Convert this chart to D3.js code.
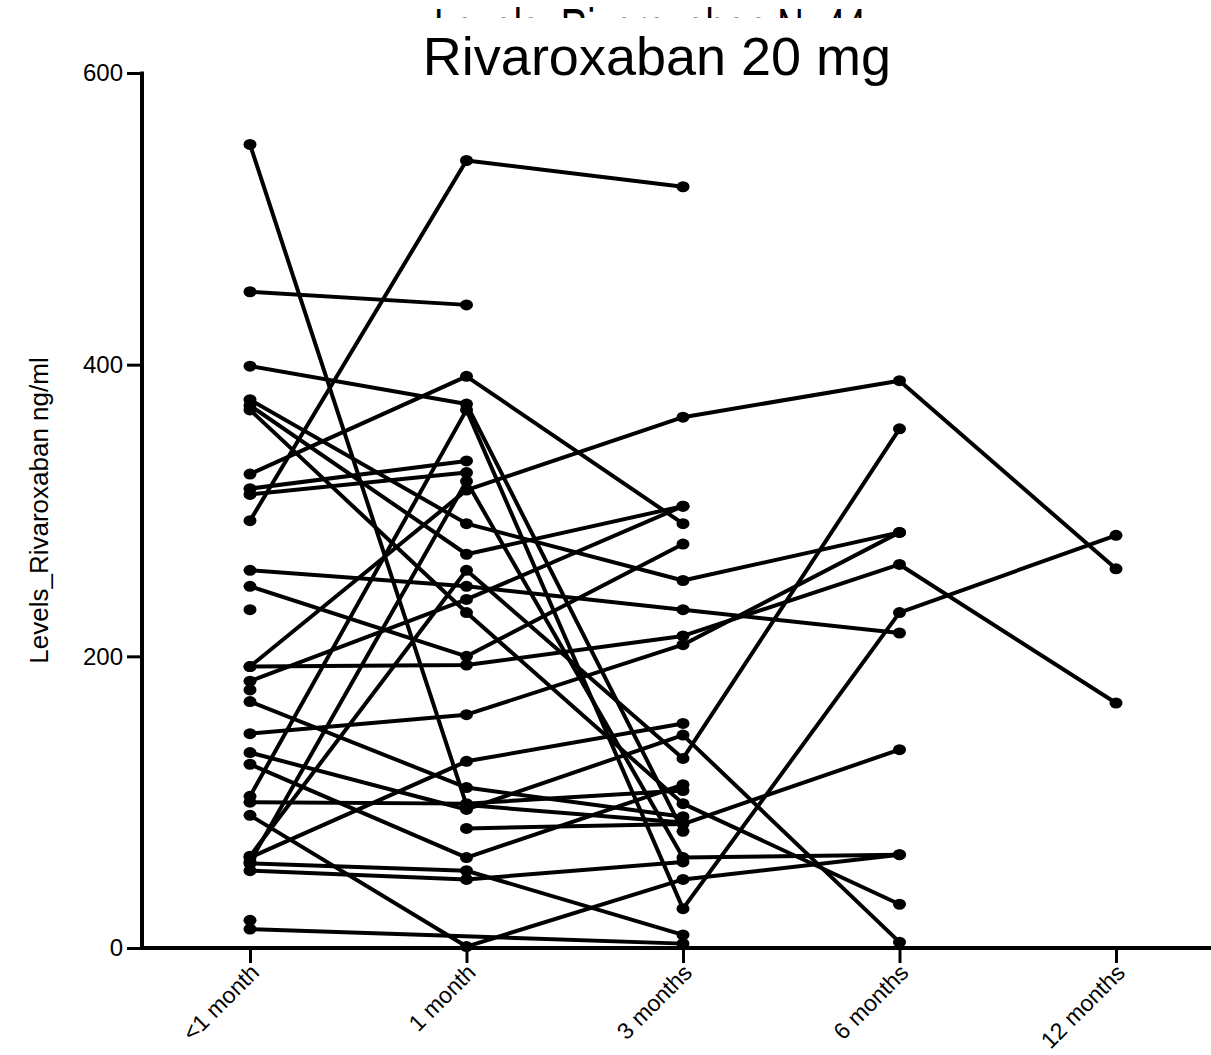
<!DOCTYPE html>
<html><head><meta charset="utf-8">
<script src="https://cdnjs.cloudflare.com/ajax/libs/d3/7.8.5/d3.min.js"></script>
<style>
body{margin:0;background:#fff}
svg{display:block}
text{font-family:"Liberation Sans",Arial,sans-serif;fill:#000}
</style>
</head><body>
<svg id="chart" width="1211" height="1055"></svg>
<script>
// Visits along the x axis
const timepoints = ["<1 month", "1 month", "3 months", "6 months", "12 months"];
const yTicks = [0, 200, 400, 600];
const chartTitle = "Rivaroxaban 20 mg";
const hiddenTitle = "Levels_Rivaroxaban N=44";
const yLabel = "Levels_Rivaroxaban ng/ml";

// Rivaroxaban level (ng/ml) per patient at each visit; null = not measured
const subjects = [
  [551, 98, 86, null, null],
  [450, 441, null, null, null],
  [399, 373, 80, null, null],
  [376, 291, 252, 285, null],
  [372, 270, 303, null, null],
  [369, 230, 99, 30, null],
  [325, 392, 291, null, null],
  [315, 334, null, null, null],
  [311, 326, null, null, null],
  [293, 540, 522, null, null],
  [259, 248, 232, 216, null],
  [248, 200, 277, null, null],
  [232, null, null, null, null],
  [193, 194, 214, 263, 168],
  [193, 314, 364, 389, 260],
  [183, 239, 303, null, null],
  [177, null, null, null, null],
  [169, 110, 90, null, null],
  [147, 160, 208, 285, null],
  [134, 95, 146, 4, null],
  [126, 62, 112, null, null],
  [104, 369, 27, 230, 283],
  [100, 99, 108, null, null],
  [91, 1, 47, 64, null],
  [63, 259, 130, 356, null],
  [62, 128, 154, null, null],
  [59, 320, 62, 64, null],
  [58, 53, 9, null, null],
  [53, 47, 59, null, null],
  [19, null, null, null, null],
  [13, null, 3, null, null],
  [null, 82, 85, 136, null]
];

const svg = d3.select("#chart");
const x = d3.scalePoint().domain(timepoints).range([250, 1116]);
const y = d3.scaleLinear().domain([0, 600]).range([948, 73]);

// Title block: the upper caption is mostly covered by the main title,
// only the tops of its tall letters remain visible
const clip = svg.append("defs").append("clipPath").attr("id", "topclip");
clip.append("rect").attr("x", 0).attr("y", 0).attr("width", 1211).attr("height", 18);
svg.append("text").attr("x", 650).attr("y", 47).attr("text-anchor", "middle")
  .attr("font-size", 56).attr("textLength", 432).attr("lengthAdjust", "spacingAndGlyphs")
  .attr("clip-path", "url(#topclip)").text(hiddenTitle);
svg.append("text").attr("x", 657).attr("y", 75).attr("text-anchor", "middle")
  .attr("font-size", 54).text(chartTitle);

// Y axis
const yAxis = svg.append("g").attr("transform", "translate(142,0)")
  .call(d3.axisLeft(y).tickValues(yTicks).tickSize(15).tickPadding(4));
yAxis.select(".domain").remove();
yAxis.selectAll(".tick line").attr("stroke", "#000").attr("stroke-width", 3);
yAxis.selectAll(".tick text").attr("font-size", 24).attr("font-family", "Liberation Sans, Arial, sans-serif");
svg.append("line").attr("x1", 142).attr("x2", 142).attr("y1", y(600) - 1.5).attr("y2", y(0) + 2)
  .attr("stroke", "#000").attr("stroke-width", 4);

svg.append("text").attr("transform", `translate(48,${(y(0) + y(600)) / 2}) rotate(-90)`)
  .attr("text-anchor", "middle").attr("font-size", 26).text(yLabel);

// X axis
const xAxis = svg.append("g").attr("transform", `translate(0,${y(0)})`)
  .call(d3.axisBottom(x).tickSize(15).tickFormat(""));
xAxis.select(".domain").remove();
xAxis.selectAll(".tick line").attr("stroke", "#000").attr("stroke-width", 3);
svg.append("line").attr("x1", 140).attr("x2", 1211).attr("y1", y(0)).attr("y2", y(0))
  .attr("stroke", "#000").attr("stroke-width", 4);
xAxis.selectAll(".tick").append("text")
  .attr("transform", "translate(10,26) rotate(-45)")
  .attr("text-anchor", "end").attr("font-size", 23).text(d => d);

// Patient trajectories
const line = d3.line().x(d => x(d.t)).y(d => y(d.v));
const g = svg.append("g");
subjects.forEach(vals => {
  const pts = vals.map((v, i) => ({t: timepoints[i], v})).filter(d => d.v !== null);
  if (pts.length > 1) {
    g.append("path").attr("d", line(pts)).attr("fill", "none")
      .attr("stroke", "#000").attr("stroke-width", 4).attr("stroke-linejoin", "round");
  }
  g.selectAll(null).data(pts).enter().append("ellipse")
    .attr("cx", d => x(d.t)).attr("cy", d => y(d.v)).attr("rx", 6.5).attr("ry", 5.5)
    .attr("fill", "#000");
});
</script>
</body></html>
